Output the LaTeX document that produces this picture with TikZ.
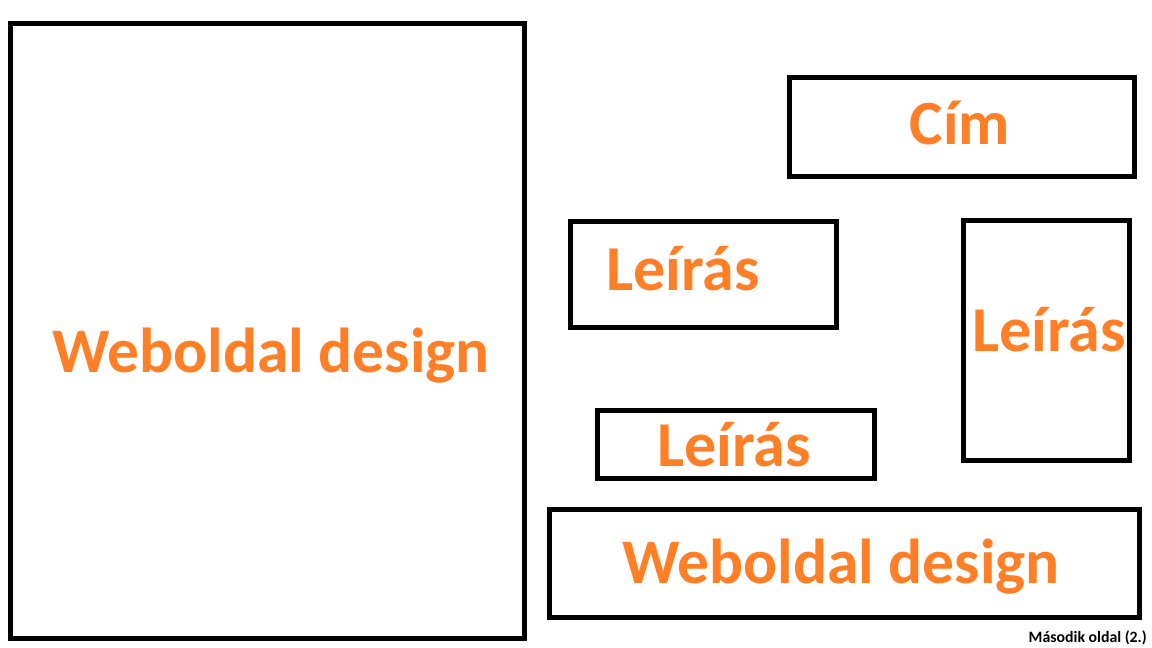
\documentclass[tikz,border=0pt]{standalone}
\usepackage{fontspec}
\setmainfont{Carlito}
\definecolor{paintorange}{HTML}{FF7F27}
\tikzset{
  box/.style={draw=black, line width=5pt},
  lbl/.style={text=paintorange, font=\bfseries\fontsize{#1}{#1}\selectfont, inner sep=0pt, anchor=base},
  lbl/.default=60,
  note/.style={text=black, font=\bfseries\fontsize{15.8}{15.8}\selectfont, inner sep=0pt, anchor=base east}
}
\begin{document}
\begin{tikzpicture}[x=1pt,y=-1pt]
\useasboundingbox (0,0) rectangle (1152,648);
\fill[white] (0,0) rectangle (1152,648);
% boxes
\draw[box] (10.5,23.5) rectangle (524.5,638.5);
\draw[box] (789.5,77.7) rectangle (1134.8,176.3);
\draw[box] (570.5,221.5) rectangle (836.5,327.5);
\draw[box] (963.5,220.5) rectangle (1129.5,460.5);
\draw[box] (597.5,410.5) rectangle (874.5,478.5);
\draw[box] (549.5,509.5) rectangle (1139.5,617.5);
% labels
\node[lbl=63.5] (web1) at (271,372) {Weboldal design};
\node[lbl=63] (cim) at (960,144) {Cím};
\node[lbl=64] (le1) at (683,290) {Leírás};
\node[lbl=64] (le2) at (1049,351) {Leírás};
\node[lbl=64] (le3) at (734,466) {Leírás};
\node[lbl=63.5] (web2) at (841,583) {Weboldal design};
\node[note] (masodik) at (1147,642) {Második oldal (2.)};
\end{tikzpicture}
\end{document}
